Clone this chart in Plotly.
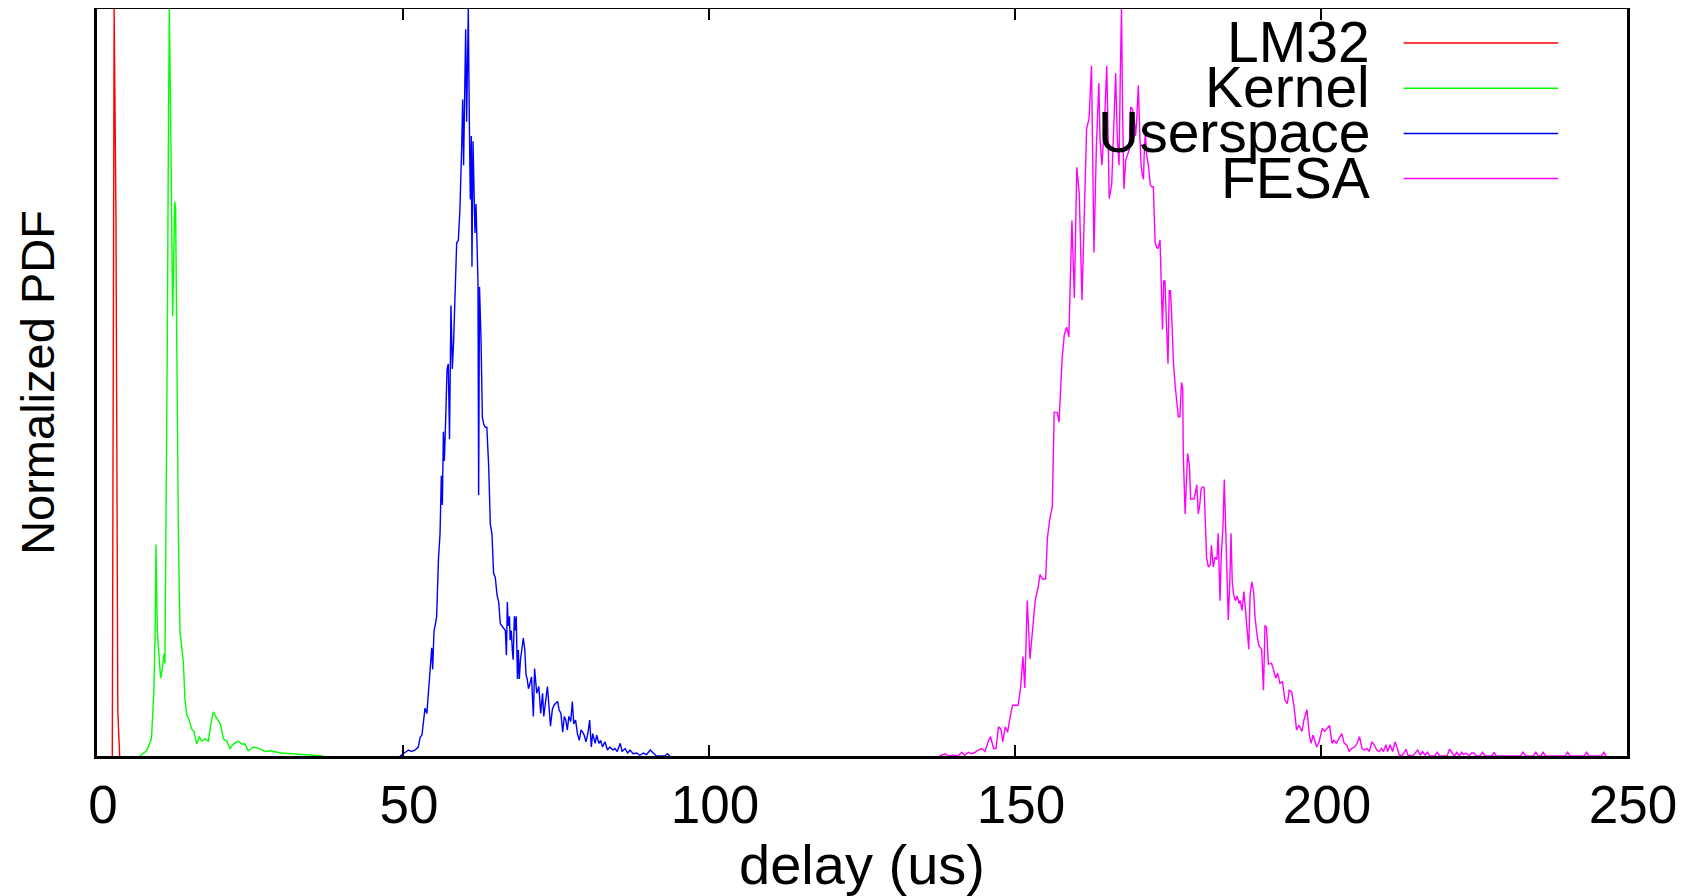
import plotly.graph_objects as go

# ---------------- data ----------------
series_names = ["LM32", "Kernel", "Userspace", "FESA"]
series_colors = ["#ff0000", "#00ff00", "#0000ff", "#ff00ff"]

x_ticks = [0, 50, 100, 150, 200, 250]

lm32_x = [2.5, 2.8, 3.1, 3.4, 3.7]
lm32_y = [0.0, 1.0, 0.72, 0.06, 0.0]

kernel_x = [7.0, 8.1, 8.9, 9.3, 9.5, 9.64, 9.86, 10.13, 10.4, 10.73, 10.95, 11.1,
            11.27, 11.49, 11.66, 11.82, 12.04, 12.2, 12.36, 12.5, 12.7, 12.85, 13.0,
            13.3, 13.56, 13.84, 14.1, 14.38, 14.66, 15.03, 15.47, 15.85, 16.29, 16.72,
            17.1, 17.65, 18.2, 18.58, 19.0, 19.44, 19.82, 20.2, 20.64, 21.2, 21.73,
            22.28, 23.1, 23.64, 24.2, 24.7, 25.6, 26.6, 27.4, 28.3, 30.0, 31.5, 34.0, 37.0]
kernel_y = [0.0, 0.007, 0.023, 0.088, 0.166, 0.283, 0.166, 0.127, 0.104, 0.12, 0.137, 0.124,
            0.296, 0.556, 0.817, 1.0, 0.849, 0.751, 0.589, 0.647, 0.742, 0.732, 0.556,
            0.296, 0.166, 0.146, 0.127, 0.075, 0.055, 0.049, 0.036, 0.033, 0.016, 0.026,
            0.02, 0.023, 0.02, 0.042, 0.059, 0.052, 0.046, 0.042, 0.023, 0.02, 0.01,
            0.016, 0.02, 0.016, 0.016, 0.007, 0.012, 0.01, 0.006, 0.007, 0.004, 0.003, 0.002, 0.0]

user_x = [49.5, 50.3, 50.9, 51.4, 52.0, 52.5, 52.8, 53.1, 53.3, 53.6, 53.9, 54.1, 54.4,
          54.7, 54.85, 55.07, 55.3, 55.5, 55.8, 56.05, 56.26, 56.43, 56.6, 56.76, 56.98,
          57.2, 57.4, 57.6, 57.84, 58.06, 58.28, 58.5, 58.77, 59.04, 59.3, 59.6, 59.75,
          59.9, 60.08, 60.24, 60.4, 60.57, 60.67, 60.84, 61.0, 61.16, 61.27, 61.44, 61.6,
          61.76, 61.93, 62.1, 62.25, 62.36, 62.5, 62.75, 62.97, 63.2, 63.45, 63.7, 64.0,
          64.27, 64.54, 64.8, 65.08, 65.36, 65.63, 65.9, 66.18, 66.45, 66.72, 66.9, 67.05,
          67.2, 67.4, 67.5, 67.7, 67.86, 68.0, 68.2, 68.35, 68.5, 68.7, 68.85, 69.0, 69.2,
          69.45, 69.66, 69.9, 70.1, 70.3, 70.5,
          70.75, 71.0, 71.3, 71.5, 71.85, 72.2, 72.5, 72.8, 73.0, 73.37, 73.6, 73.86, 74.1,
          74.4, 74.67, 75.0, 75.27, 75.5, 75.8, 76.1, 76.36, 76.6, 76.85, 77.1, 77.4, 77.67,
          77.9, 78.2, 78.5, 78.8, 79.1, 79.36, 79.6, 79.9, 80.2, 80.5, 80.77, 81.0, 81.4,
          81.65, 82.0, 82.3, 82.6, 83.0, 83.4, 83.8, 84.3, 84.6, 85.0, 85.5, 85.8, 86.3,
          86.7, 87.1, 87.6, 88.2, 88.7, 89.3, 89.8, 90.4, 90.9, 91.4, 92.8, 93.2, 93.6]
user_y = [0.0, 0.005, 0.008, 0.006, 0.008, 0.012, 0.025, 0.028, 0.047, 0.064, 0.057, 0.077, 0.109,
          0.145, 0.116, 0.168, 0.177, 0.187, 0.265, 0.297, 0.375, 0.336, 0.434, 0.395, 0.453,
          0.518, 0.525, 0.424, 0.603, 0.518, 0.557, 0.622, 0.687, 0.690, 0.732, 0.817, 0.879,
          0.791, 0.862, 0.973, 0.849, 0.947, 1.0, 0.849, 0.745, 0.83, 0.655, 0.823, 0.739,
          0.70, 0.739, 0.68, 0.635, 0.349, 0.628, 0.557, 0.453, 0.444, 0.44, 0.44, 0.388,
          0.31, 0.297, 0.245, 0.239, 0.216, 0.206, 0.177, 0.174, 0.171, 0.168, 0.135, 0.206,
          0.174, 0.187, 0.155, 0.168, 0.142, 0.129, 0.187, 0.168, 0.187, 0.103, 0.142, 0.103, 0.129,
          0.148, 0.158, 0.142, 0.109, 0.103, 0.09,
          0.097, 0.106, 0.053, 0.117, 0.084, 0.093, 0.057, 0.084, 0.053, 0.075, 0.093, 0.066, 0.04,
          0.062, 0.068, 0.071, 0.073, 0.062, 0.057, 0.032, 0.053, 0.048, 0.035, 0.053, 0.046, 0.073,
          0.043, 0.048, 0.03, 0.021, 0.035, 0.032, 0.028, 0.019, 0.03, 0.048, 0.012, 0.03, 0.017,
          0.028, 0.017, 0.021, 0.012, 0.019, 0.008, 0.012, 0.008, 0.01, 0.006, 0.017, 0.006, 0.01,
          0.004, 0.008, 0.003, 0.004, 0.001, 0.004, 0.002, 0.008, 0.004, 0.0, 0.0, 0.003, 0.0]

fesa_x = [137.7, 138.6, 139.1, 139.9, 140.7, 141.3, 141.8, 142.4, 142.9, 143.5, 144.0, 144.6,
          145.1, 145.6, 146.0, 146.5, 146.9, 147.3, 147.7, 148.0, 148.4, 148.8, 149.2, 149.6,
          150.05, 150.5, 150.9, 151.3, 151.6, 152.0, 152.45, 152.9, 153.3, 153.8, 154.1, 154.5,
          155.0, 155.3, 155.7, 156.1, 156.4, 156.9, 157.2, 157.7, 158.05, 158.45, 158.8, 159.3,
          159.7, 160.1, 160.5, 160.95, 161.3, 161.7, 162.1, 162.5, 162.9, 163.3, 163.7, 163.9,
          164.2, 164.6, 165.0, 165.4,
          165.8, 166.1, 166.45, 166.7, 167.0, 167.2, 167.4, 167.6, 167.8, 168.1, 168.4, 168.65,
          168.9, 169.2, 169.5, 169.7, 169.9, 170.15, 170.4, 170.6, 170.8, 171.0, 171.1, 171.3,
          171.5, 171.8, 172.1, 172.35, 172.6, 172.9, 173.2, 173.4, 173.7, 173.86, 174.1, 174.3,
          174.5, 174.75, 175.0, 175.2, 175.4, 175.6, 175.9, 176.2, 176.5, 176.7, 176.95, 177.2,
          177.4, 177.5, 177.8, 178.0, 178.2, 178.5, 178.7, 179.0, 179.25, 179.5, 179.7, 179.95,
          180.2, 180.4, 180.6, 180.9, 181.1, 181.3, 181.6, 181.9, 182.1, 182.4, 182.7, 183.0,
          183.2, 183.5, 183.7, 184.0, 184.2, 184.4, 184.6, 184.85, 185.1, 185.3, 185.5, 185.7,
          186.0, 186.3, 186.6, 186.8, 187.1, 187.4, 187.6, 187.9, 188.2, 188.4, 188.7, 189.0,
          189.2, 189.5, 189.8, 190.0, 190.3, 190.6, 190.85, 191.1, 191.4,
          191.9, 192.2, 192.6, 192.9, 193.3, 193.7, 194.1, 194.5, 194.8, 195.2, 195.6, 196.0,
          196.4, 196.9, 197.2, 197.7, 198.1, 198.4, 198.7, 199.0, 199.3, 199.7, 200.2, 200.6,
          201.0, 201.4, 201.8, 202.1, 202.5, 203.0, 203.4, 203.8, 204.2, 204.6, 205.0, 205.5,
          205.9, 206.3, 206.7, 207.1, 207.5, 207.9, 208.3, 208.7, 209.1, 209.5, 209.9, 210.2,
          210.6, 210.9, 211.3, 211.7, 212.1, 212.4, 212.8, 213.3, 213.9, 214.2, 215.0, 215.8,
          216.2, 216.6, 217.0, 217.4, 217.8, 218.6, 219.0, 219.4, 220.6, 221.0, 221.4, 221.8,
          222.2, 222.6, 223.0, 223.3, 223.7, 224.2, 224.6, 225.0, 225.4, 226.0, 226.4, 226.8,
          227.9, 228.3, 228.6, 232.6, 233.0, 233.5, 234.7, 235.1, 235.5, 235.9, 236.3, 236.7,
          239.9, 240.3, 240.7, 243.0, 243.4, 243.8, 245.8, 246.2, 246.6]
fesa_y = [0.0, 0.003, 0.0, 0.001, 0.0, 0.005, 0.001, 0.005, 0.003, 0.005, 0.008, 0.01,
          0.006, 0.019, 0.026, 0.01, 0.01, 0.039, 0.036, 0.019, 0.039, 0.032, 0.052, 0.068,
          0.068, 0.068, 0.091, 0.133, 0.091, 0.208, 0.13, 0.169, 0.208, 0.227, 0.243, 0.237,
          0.237, 0.292, 0.318, 0.334, 0.46, 0.46, 0.447, 0.532, 0.564, 0.574, 0.561, 0.717,
          0.613, 0.788, 0.752, 0.61, 0.713, 0.84, 0.853, 0.924, 0.674, 0.817, 0.901, 0.824,
          0.791, 0.843, 0.924, 0.746,
          0.765, 0.843, 0.914, 0.83, 0.791, 0.908, 1.0, 0.85, 0.759, 0.798, 0.804, 0.811,
          0.869, 0.866, 0.85, 0.83, 0.853, 0.898, 0.83, 0.791, 0.778, 0.772, 0.804, 0.837,
          0.804, 0.791, 0.765, 0.762, 0.762, 0.687, 0.68, 0.68, 0.691, 0.649, 0.571, 0.636,
          0.636, 0.578, 0.525, 0.623, 0.623, 0.59, 0.525, 0.493, 0.473, 0.454, 0.454, 0.5,
          0.493, 0.402, 0.324, 0.376, 0.405, 0.389, 0.344, 0.344, 0.344, 0.353, 0.363, 0.324,
          0.337, 0.357, 0.36, 0.36, 0.311, 0.266, 0.253, 0.256, 0.282, 0.253, 0.266, 0.263,
          0.298, 0.208, 0.266, 0.311, 0.37, 0.311, 0.233, 0.182, 0.233, 0.298, 0.233, 0.217,
          0.208, 0.214, 0.204, 0.208, 0.195, 0.22, 0.201, 0.169, 0.143, 0.214, 0.233, 0.22,
          0.188, 0.165, 0.149, 0.146, 0.143, 0.088, 0.175, 0.172, 0.123,
          0.124, 0.117, 0.104, 0.111, 0.097, 0.1, 0.075, 0.07, 0.088, 0.086, 0.066, 0.035,
          0.041, 0.033, 0.048, 0.062, 0.028, 0.017, 0.028, 0.021, 0.012, 0.019, 0.037, 0.033,
          0.037, 0.041, 0.017, 0.021, 0.017, 0.024, 0.03, 0.017, 0.015, 0.006, 0.01, 0.012,
          0.017, 0.026, 0.01, 0.008, 0.01, 0.006, 0.019, 0.015, 0.008, 0.006, 0.01, 0.006,
          0.015, 0.006, 0.015, 0.006, 0.019, 0.012, 0.001, 0.001, 0.009, 0.001, 0.0, 0.008,
          0.001, 0.006, 0.001, 0.005, 0.0, 0.0, 0.005, 0.0, 0.0, 0.009, 0.004, 0.0,
          0.005, 0.0, 0.005, 0.002, 0.004, 0.0, 0.004, 0.004, 0.0, 0.0, 0.005, 0.0,
          0.0, 0.005, 0.0, 0.0, 0.005, 0.0, 0.0, 0.005, 0.0, 0.0, 0.005, 0.0,
          0.0, 0.005, 0.0, 0.0, 0.005, 0.0, 0.0, 0.005, 0.0]

series_x = [lm32_x, kernel_x, user_x, fesa_x]
series_y = [lm32_y, kernel_y, user_y, fesa_y]
for sx, sy in zip(series_x, series_y):
    assert len(sx) == len(sy), (len(sx), len(sy))

FONT = "Liberation Sans, Arial, Helvetica, sans-serif"

fig = go.Figure()
for name, color, sx, sy in zip(series_names, series_colors, series_x, series_y):
    fig.add_trace(go.Scatter(x=sx, y=sy, mode="lines", name=name,
                             line=dict(color=color, width=1.4), showlegend=False))

# gnuplot-style key: text right-aligned, line sample on the right
key_text_x = 0.8333
key_line_x0, key_line_x1 = 0.854, 0.955
key_top, key_step = 0.9545, 0.0605
for i, (name, color) in enumerate(zip(series_names, series_colors)):
    yk = key_top - i * key_step
    fig.add_annotation(x=key_text_x, y=yk, xref="paper", yref="paper", text=name,
                       showarrow=False, xanchor="right", yanchor="middle", yshift=1,
                       font=dict(family=FONT, size=57, color="black"))
    fig.add_shape(type="line", xref="paper", yref="paper", x0=key_line_x0, x1=key_line_x1,
                  y0=yk, y1=yk, line=dict(color=color, width=1.5))

# page body adds an 8px offset, so the figure is 8px smaller and margins shifted
fig.update_layout(
    width=1685, height=888,
    margin=dict(l=89, r=66, t=1, b=140, autoexpand=False),
    plot_bgcolor="white", paper_bgcolor="white",
    font=dict(family=FONT, color="black"),
    showlegend=False,
)
fig.update_xaxes(range=[0, 250], tickvals=x_ticks, ticktext=[str(v) for v in x_ticks],
                 ticks="inside", ticklen=11, tickwidth=2, tickcolor="black",
                 showline=True, linewidth=3, linecolor="black", mirror="ticks",
                 showgrid=False, zeroline=False, ticklabelstandoff=0, ticklabelshift=6,
                 automargin=False,
                 tickfont=dict(family=FONT, size=53, color="black"),
                 title=dict(text="delay (us)", standoff=27,
                            font=dict(family=FONT, size=56, color="black")))
fig.update_yaxes(range=[0, 1.0], showticklabels=False, ticks="",
                 showline=True, linewidth=3, linecolor="black", mirror=True,
                 showgrid=False, zeroline=False, automargin=False,
                 title=dict(text="Normalized PDF", standoff=25,
                            font=dict(family=FONT, size=47, color="black")))

fig.write_html("out.html")
